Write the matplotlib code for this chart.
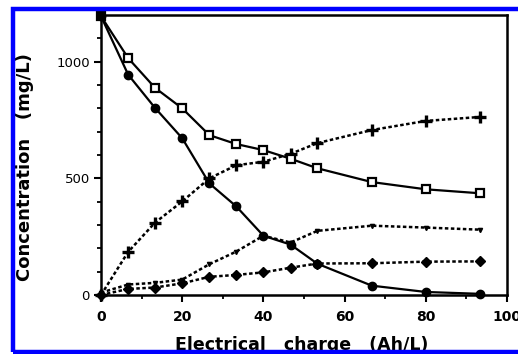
import matplotlib
matplotlib.use("Agg")
import matplotlib.pyplot as plt
from matplotlib.patches import Rectangle
from matplotlib.ticker import MultipleLocator

x = [0, 6.7, 13.3, 20, 26.7, 33.3, 40, 46.7, 53.3, 66.7, 80, 93.3]
squares = [1195, 1015, 888, 800, 685, 647, 621, 584, 543, 484, 453, 436]
circles = [1195, 944, 802, 672, 478, 380, 254, 216, 134, 40, 13, 5]
pluses = [0, 185, 310, 401, 500, 556, 571, 605, 651, 707, 746, 763]
triangles = [10, 45, 52, 66, 132, 186, 254, 225, 275, 297, 289, 280]
diamonds = [0, 26, 32, 50, 78, 86, 97, 117, 135, 136, 143, 144]

xticks = [0, 20, 40, 60, 80, 100]
yticks = [0, 500, 1000]

fig = plt.figure(figsize=(5.18, 3.54), dpi=100)
ax = fig.add_axes([101/518, 1-295/354, 406/518, 280/354])

dash = (0, (1.4, 1.0))
ax.plot(x, squares, color="black", lw=1.6, marker="s", ms=5.5, mfc="white",
        mec="black", mew=1.6, clip_on=False, zorder=4)
ax.plot(x, circles, color="black", lw=1.6, marker="o", ms=6, mfc="black",
        mec="black", clip_on=False, zorder=4)
ax.plot(x, pluses, color="black", lw=1.8, ls=dash, marker="+", ms=8, mew=2.4,
        mec="black", clip_on=False, zorder=3)
ax.plot(x, triangles, color="black", lw=1.8, ls=dash, marker="v", ms=3,
        mfc="black", mec="black", clip_on=False, zorder=3)
ax.plot(x, diamonds, color="black", lw=1.8, ls=dash, marker="D", ms=5.5,
        mfc="black", mec="black", clip_on=False, zorder=3)

ax.set_xlim(0, 100)
ax.set_ylim(0, 1200)
ax.set_xticks(xticks)
ax.set_yticks(yticks)
ax.xaxis.set_minor_locator(MultipleLocator(10))
ax.yaxis.set_minor_locator(MultipleLocator(100))
ax.set_xticklabels([str(t) for t in xticks], fontweight="bold", fontsize=10)
ax.set_yticklabels([str(t) for t in yticks], fontsize=9.5)
ax.tick_params(axis="both", which="major", direction="out", length=5, width=1.5, pad=3)
ax.tick_params(axis="both", which="minor", direction="out", length=3, width=1.3)
ax.tick_params(axis="x", which="major", pad=6)
for s in ax.spines.values():
    s.set_linewidth(1.8)

fig.text(302/518, 1-345/354, "Electrical   charge   (Ah/L)", fontsize=12.5,
         fontweight="bold", ha="center", va="center")
fig.text(25/518, 1-167/354, "Concentration   (mg/L)", fontsize=13,
         fontweight="bold", ha="center", va="center", rotation=90)

fig.patches.append(Rectangle((13/518, 1-351.5/354), 1.0, (351.5-8.5)/354,
                             transform=fig.transFigure, fill=False,
                             edgecolor="#0000ff", lw=3.2, zorder=10))

fig.savefig("out.png", dpi=100)
